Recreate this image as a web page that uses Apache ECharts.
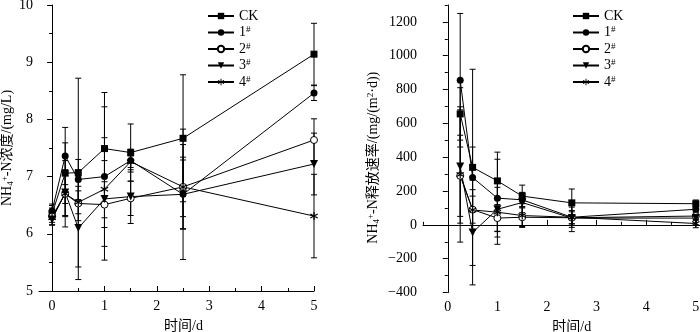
<!DOCTYPE html>
<html>
<head>
<meta charset="utf-8">
<script src="https://cdn.jsdelivr.net/npm/echarts@6/dist/echarts.min.js"></script>
<style>html,body{margin:0;padding:0;background:#fff}#c{width:700px;height:332px}</style>
</head>
<body>
<div id="c"></div>
<script>
// ---- data ----
const seriesNames = ['CK', '1#', '2#', '3#', '4#'];
// left panel: NH4+-N concentration (mg/L)
const timeL = [0, 0.25, 0.5, 1, 1.5, 2.5, 5];
const concCK = [6.35, 7.06, 7.07, 7.49, 7.42, 7.67, 9.14];
const conc1 = [6.40, 7.36, 6.95, 7.00, 7.28, 6.69, 8.46];
const conc2 = [6.30, 6.70, 6.53, 6.51, 6.62, 6.82, 7.64];
const conc3 = [6.25, 6.72, 6.10, 6.61, 6.65, 6.69, 7.22];
const conc4 = [6.28, 6.70, 6.55, 6.78, 7.26, 6.82, 6.31];
const concErrCK = [0.10, 0.53, 1.65, 0.98, 0.50, 1.11, 0.54];
const concErr1 = [0.12, 0.50, 0.35, 1.22, 0.20, 1.14, 0.13];
const concErr2 = [0.10, 0.58, 0.30, 0.40, 0.30, 0.74, 0.37];
const concErr3 = [0.10, 0.40, 0.90, 1.07, 0.47, 0.60, 0.54];
const concErr4 = [0.12, 0.40, 0.20, 0.50, 0.10, 0.52, 0.73];
// right panel: NH4+-N release rate (mg/(m2·d))
const timeR = [0.25, 0.5, 1, 1.5, 2.5, 5];
const rateCK = [656, 340, 260, 170, 130, 125];
const rate1 = [855, 280, 158, 148, 45, 92];
const rate2 = [290, 90, 40, 45, 42, 52];
const rate3 = [345, -45, 92, 132, 40, 40];
const rate4 = [298, 88, 75, 55, 45, 8];
const rateErrCK = [155, 580, 170, 65, 82, 22];
const rateErr1 = [395, 180, 230, 40, 40, 15];
const rateErr2 = [240, 80, 80, 55, 35, 20];
const rateErr3 = [335, 310, 130, 60, 80, 15];
const rateErr4 = [400, 120, 190, 70, 60, 25];
// ticks
const xTicksL = [0, 1, 2, 3, 4, 5];
const xMinorL = [0.5, 1.5, 2.5, 3.5, 4.5];
const xTicksR = [0, 1, 2, 3, 4, 5];
const xMinorR = [-0.5, 0.5, 1.5, 2.5, 3.5, 4.5, 5.5];
const yTicksR = [-400, -200, 0, 200, 400, 600, 800, 1000, 1200];
const yMinorR = [-300, -100, 100, 300, 500, 700, 900, 1100, 1300];

// ---- chart ----
const FONT = '"Liberation Serif", "Noto Sans CJK SC", serif';
const asterisk = 'path://M-0.7,-5 L0.7,-5 L0.7,5 L-0.7,5 Z M3.98,3.106 L-4.68,-1.894 L-3.98,-3.106 L4.68,1.894 Z M-4.68,1.894 L3.98,-3.106 L4.68,-1.894 L-3.98,3.106 Z';
const markerStyles = [
  {symbol: 'rect', symbolSize: 7, itemStyle: {color: '#000'}},
  {symbol: 'circle', symbolSize: 7, itemStyle: {color: '#000'}},
  {symbol: 'circle', symbolSize: 7, itemStyle: {color: '#fff', borderColor: '#000', borderWidth: 1}},
  {symbol: 'triangle', symbolSize: 8, symbolRotate: 180, itemStyle: {color: '#000'}},
  {symbol: asterisk, symbolSize: 8, itemStyle: {color: '#000'}}
];

function zip(xs, ys) { return xs.map((x, i) => [x, ys[i]]); }
function zip3(xs, ys, es) { return xs.map((x, i) => [x, ys[i], es[i]]); }

function errRender(params, api) {
  const x = api.value(0), y = api.value(1), e = api.value(2);
  const t = api.coord([x, y + e]);
  const b = api.coord([x, y - e]);
  const w = 3;
  const st = {stroke: '#000', lineWidth: 1};
  return {
    type: 'group',
    children: [
      {type: 'line', shape: {x1: t[0], y1: t[1], x2: b[0], y2: b[1]}, style: st},
      {type: 'line', shape: {x1: t[0] - w, y1: t[1], x2: t[0] + w, y2: t[1]}, style: st},
      {type: 'line', shape: {x1: b[0] - w, y1: b[1], x2: b[0] + w, y2: b[1]}, style: st}
    ]
  };
}

const leftVals = [concCK, conc1, conc2, conc3, conc4];
const leftErrs = [concErrCK, concErr1, concErr2, concErr3, concErr4];
const rightVals = [rateCK, rate1, rate2, rate3, rate4];
const rightErrs = [rateErrCK, rateErr1, rateErr2, rateErr3, rateErr4];

const series = [];
function addPanel(xs, vals, errs, xi, yi) {
  vals.forEach((v, k) => {
    series.push({
      type: 'custom', name: seriesNames[k] + '_err', xAxisIndex: xi, yAxisIndex: yi,
      renderItem: errRender, data: zip3(xs, v, errs[k]), encode: {x: 0, y: 1}, z: 1, silent: true
    });
  });
  vals.forEach((v, k) => {
    series.push(Object.assign({
      type: 'line', name: seriesNames[k], xAxisIndex: xi, yAxisIndex: yi,
      data: zip(xs, v), lineStyle: {color: '#000', width: 1}, showAllSymbol: true, animation: false, z: 3
    }, markerStyles[k]));
  });
}
addPanel(timeL, leftVals, leftErrs, 0, 0);
addPanel(timeR, rightVals, rightErrs, 1, 1);

const axisLine = {show: true, lineStyle: {color: '#000', width: 1}};
const labelStyle = {color: '#000', fontFamily: FONT, fontSize: 14};
const richName = {n: {fontFamily: FONT, fontSize: 14, color: '#000'},
         s: {fontFamily: FONT, fontSize: 9, color: '#000', verticalAlign: 'bottom', padding: [6, 0, 0, 0]},
         p: {fontFamily: FONT, fontSize: 9, color: '#000', verticalAlign: 'top', padding: [0, 0, 6, 0]}};

function mainX(gi, min, max, ticks, pad) {
  return {type: 'value', gridIndex: gi, min: min, max: max, position: 'bottom',
    axisLine: axisLine, splitLine: {show: false},
    axisTick: {show: true, inside: true, length: 5, customValues: ticks, lineStyle: {color: '#000'}},
    axisLabel: Object.assign({customValues: ticks, margin: 8}, labelStyle),
    name: '时间/d', nameLocation: 'middle', nameGap: 28,
    nameTextStyle: {color: '#000', fontFamily: FONT, fontSize: 14, padding: pad}};
}
function minorX(gi, min, max, ticks) {
  return {type: 'value', gridIndex: gi, min: min, max: max, position: 'bottom', offset: 0,
    axisLine: {show: false}, splitLine: {show: false}, axisLabel: {show: false},
    axisTick: {show: true, inside: true, length: 3, customValues: ticks, lineStyle: {color: '#000'}}};
}
const fmtMinus = v => String(v).replace('-', '\u2212');
const legendFmt = n => n.indexOf('#') > 0 ? n.replace('#', '') + '{sup|#}' : n;
const legendText = {color: '#000', fontFamily: FONT, fontSize: 14,
  rich: {sup: {fontFamily: FONT, fontSize: 9, color: '#000', verticalAlign: 'top', padding: [0, 0, 5, 0]}}};

const option = {
  animation: false,
  backgroundColor: '#fff',
  grid: [
    {left: 39, top: 5, width: 275, height: 286, containLabel: false, outerBoundsMode: 'none'},
    {left: 423, top: 5, width: 297.6, height: 287.5, containLabel: false, outerBoundsMode: 'none'}
  ],
  xAxis: [
    mainX(0, -0.25, 5, xTicksL, [0, 0, 0, 14]),
    mainX(1, -0.5, 5.5, xTicksR, [0, 0, 0, 0]),
    minorX(0, -0.25, 5, xMinorL),
    minorX(1, -0.5, 5.5, xMinorR)
  ],
  yAxis: [
    {type: 'value', gridIndex: 0, min: 5, max: 10, interval: 1, position: 'left',
      axisLine: axisLine, splitLine: {show: false},
      axisTick: {show: true, inside: false, length: 5, lineStyle: {color: '#000'}},
      minorTick: {show: true, splitNumber: 2, length: 3, lineStyle: {color: '#000'}},
      axisLabel: Object.assign({margin: 6}, labelStyle),
      name: '{n|NH}{s|4}{p|+}{n|-N浓度/(mg/L)}', nameLocation: 'middle', nameGap: 24, nameRotate: 90,
      nameTextStyle: {color: '#000', fontFamily: FONT, fontSize: 14, rich: richName}},
    {type: 'value', gridIndex: 1, min: -400, max: 1300, position: 'left',
      axisLine: axisLine, splitLine: {show: false},
      axisTick: {show: true, inside: false, length: 5, customValues: yTicksR, lineStyle: {color: '#000'}},
      axisLabel: Object.assign({margin: 6, customValues: yTicksR, formatter: fmtMinus}, labelStyle),
      name: '{n|NH}{s|4}{p|+}{n|-N释放速率/(mg/(m}{p|2}{n|·d))}', nameLocation: 'middle', nameGap: 42, nameRotate: 90,
      nameTextStyle: {color: '#000', fontFamily: FONT, fontSize: 14, rich: richName, padding: [0, 18, 0, 0]}},
    {type: 'value', gridIndex: 1, min: -400, max: 1300, position: 'left', offset: 0,
      axisLine: {show: false}, splitLine: {show: false}, axisLabel: {show: false},
      axisTick: {show: true, inside: false, length: 3, customValues: yMinorR, lineStyle: {color: '#000'}}}
  ],
  legend: [
    {orient: 'vertical', left: 207, top: 9, padding: 0, itemWidth: 26, itemHeight: 8, itemGap: 2.5,
      data: seriesNames, selectedMode: false, formatter: legendFmt, textStyle: legendText},
    {orient: 'vertical', left: 572, top: 9, padding: 0, itemWidth: 26, itemHeight: 8, itemGap: 2.5,
      data: seriesNames, selectedMode: false, formatter: legendFmt, textStyle: legendText}
  ],
  series: series
};
const chart = echarts.init(document.getElementById('c'), null, {renderer: 'canvas'});
chart.setOption(option);
</script>
</body>
</html>
